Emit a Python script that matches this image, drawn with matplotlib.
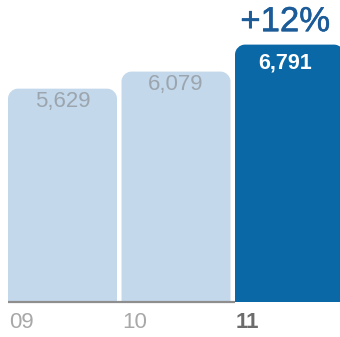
import numpy as np
import matplotlib
matplotlib.use("Agg")
import matplotlib.pyplot as plt
import matplotlib.patheffects as pe
from matplotlib.path import Path
from matplotlib.patches import PathPatch

years = ["09", "10", "11"]
revenue = [5629, 6079, 6791]
growth_label = "+12%"

light_blue = "#c3d8eb"
dark_blue = "#0a68a6"

W, H, DPI = 340, 337, 100
fig = plt.figure(figsize=(W / DPI, H / DPI), dpi=DPI)
fig.patch.set_facecolor("white")

base_px = 302  # baseline distance from top, in pixels
ax = fig.add_axes([0, (H - base_px) / H, 1, base_px / H])
ax.set_axis_off()

x = np.arange(len(years))
pitch_px = 113.5
first_center_px = 62.5
ax.set_xlim(-first_center_px / pitch_px, (W - first_center_px) / pitch_px)
ax.set_ylim(0, 7968)

colors = [light_blue, light_blue, dark_blue]
bars = ax.bar(x, revenue, width=0.96, color=colors)

# data units per pixel, for corner radii
x_per_px = (ax.get_xlim()[1] - ax.get_xlim()[0]) / W
y_per_px = (ax.get_ylim()[1] - ax.get_ylim()[0]) / base_px
r_px = 10
k = 0.5523


def rounded_top(x0, x1, y0, y1, rx, ry):
    verts = [
        (x0, y0),
        (x0, y1 - ry),
        (x0, y1 - ry + k * ry), (x0 + rx - k * rx, y1), (x0 + rx, y1),
        (x1 - rx, y1),
        (x1 - rx + k * rx, y1), (x1, y1 - ry + k * ry), (x1, y1 - ry),
        (x1, y0),
        (x0, y0),
    ]
    codes = [Path.MOVETO, Path.LINETO,
             Path.CURVE4, Path.CURVE4, Path.CURVE4,
             Path.LINETO,
             Path.CURVE4, Path.CURVE4, Path.CURVE4,
             Path.LINETO, Path.CLOSEPOLY]
    return Path(verts, codes)


for rect in bars:
    rect.set_visible(False)
    x0, y0 = rect.get_x(), rect.get_y()
    x1, y1 = x0 + rect.get_width(), y0 + rect.get_height()
    patch = PathPatch(rounded_top(x0, x1, y0, y1, r_px * x_per_px, r_px * y_per_px),
                      facecolor=rect.get_facecolor(), edgecolor="none", zorder=2)
    ax.add_patch(patch)

# baseline under the earlier years
left0 = bars[0].get_x()
left_last = bars[-1].get_x()
ax.plot([left0, left_last], [0, 0], color="#8e8e8e", lw=1.6, zorder=3,
        solid_capstyle="butt", clip_on=False)

font = ["Liberation Sans", "DejaVu Sans"]

for i, (rect, val) in enumerate(zip(bars, revenue)):
    cx = rect.get_x() + rect.get_width() / 2
    label = f"{val:,}"
    if i == len(revenue) - 1:
        ax.annotate(label, (cx, val), xytext=(-3, -13.3), textcoords="offset points",
                    ha="center", va="center", fontsize=15.5, fontweight="bold",
                    color="white", family=font, zorder=4)
        growth_color = "#1b5b98"
        ax.annotate(growth_label, (cx, val), xytext=(-3, 16.5), textcoords="offset points",
                    ha="center", va="center", fontsize=25, color=growth_color,
                    family=font, zorder=4, annotation_clip=False,
                    path_effects=[pe.withStroke(linewidth=0.4, foreground=growth_color)])
    else:
        ax.annotate(label, (cx, val), xytext=(0, -9.6), textcoords="offset points",
                    ha="center", va="center", fontsize=16, color="#9ca5ad",
                    family=font, zorder=4)

    # year labels, left-aligned to each bar
    bold = i == len(years) - 1
    ax.annotate(years[i], (rect.get_x(), 0), xytext=(0.5, -15), textcoords="offset points",
                ha="left", va="center", fontsize=16,
                fontweight="bold" if bold else "normal",
                color="#6c6c6c" if bold else "#a8a8a8",
                family=font, annotation_clip=False)

fig.savefig("out.png", dpi=DPI, facecolor="white")
